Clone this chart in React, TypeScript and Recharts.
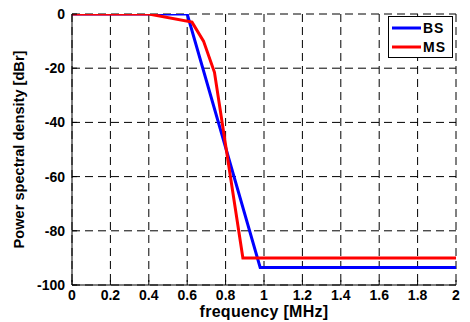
import React from 'react';
import { LineChart, Line, XAxis, YAxis, CartesianGrid, Legend } from 'recharts';

const bsFreq = [0, 0.6, 0.98, 2];
const bsPsd = [0, 0, -93.5, -93.5];
const msFreq = [0, 0.4, 0.625, 0.685, 0.742, 0.89, 2];
const msPsd = [0, 0, -3, -10, -21.5, -90, -90];
const xTicks = [0, 0.2, 0.4, 0.6, 0.8, 1, 1.2, 1.4, 1.6, 1.8, 2];
const xTickLabels = ['0', '0.2', '0.4', '0.6', '0.8', '1', '1.2', '1.4', '1.6', '1.8', '2'];
const yTicks = [-100, -80, -60, -40, -20, 0];
const yTickLabels = ['-100', '-80', '-60', '-40', '-20', '0'];
const seriesNames = ['BS', 'MS'];
const seriesColors = ['#0000ff', '#ff0000'];

const bsData = bsFreq.map((f, i) => ({ f, v: bsPsd[i] }));
const msData = msFreq.map((f, i) => ({ f, v: msPsd[i] }));

const FONT = '"Liberation Sans", Arial, sans-serif';
const TICK_MARGIN_X = 4;
const TICK_MARGIN_Y = 7;
const TICK_LEN = 5;

const XTick = (props: any) => {
  const { x, y, payload } = props;
  const axisY = y - TICK_MARGIN_X;
  const idx = xTicks.indexOf(payload.value);
  return (
    <g>
      <line x1={x} x2={x} y1={axisY} y2={axisY - TICK_LEN} stroke="#000" strokeWidth={1} />
      <text x={x} y={y} dy="0.75em" textAnchor="middle" fontFamily={FONT} fontWeight="bold" fontSize={14} fill="#000">
        {idx >= 0 ? xTickLabels[idx] : String(payload.value)}
      </text>
    </g>
  );
};

const YTick = (props: any) => {
  const { x, y, payload } = props;
  const axisX = x + TICK_MARGIN_Y;
  const idx = yTicks.indexOf(payload.value);
  return (
    <g>
      <line x1={axisX} x2={axisX + TICK_LEN} y1={y} y2={y} stroke="#000" strokeWidth={1} />
      <text x={x} y={y} dy="0.36em" textAnchor="end" fontFamily={FONT} fontWeight="bold" fontSize={14} fill="#000">
        {idx >= 0 ? yTickLabels[idx] : String(payload.value)}
      </text>
    </g>
  );
};

const LegendBox = () => (
  <div
    style={{
      border: '1px solid #000',
      background: '#fff',
      width: 63,
      height: 40,
      boxSizing: 'content-box',
      fontFamily: FONT,
      fontWeight: 'bold',
      fontSize: 14,
      letterSpacing: 1,
      position: 'relative',
    }}
  >
    {seriesNames.map((name, i) => (
      <div key={name} style={{ position: 'absolute', left: 3, top: 4 + i * 19, height: 14, display: 'flex', alignItems: 'center' }}>
        <svg width={29} height={6} style={{ display: 'block' }}>
          <line x1={0} x2={29} y1={3} y2={3} stroke={seriesColors[i]} strokeWidth={3} />
        </svg>
        <span style={{ marginLeft: 2, lineHeight: '14px' }}>{name}</span>
      </div>
    ))}
  </div>
);

export default function App() {
  return (
    <div style={{ position: 'absolute', left: 0, top: 0, width: 470, height: 322, background: '#fff' }}>
      <LineChart width={470} height={322} margin={{ top: 14, right: 14, bottom: 0, left: 12 }}>
        <CartesianGrid xAxisId="b" yAxisId="l" stroke="#000" strokeDasharray="8 5" strokeWidth={1} />
        <XAxis
          xAxisId="b"
          dataKey="f"
          type="number"
          domain={[0, 2]}
          ticks={xTicks}
          interval={0}
          height={37}
          tickSize={0}
          tickMargin={TICK_MARGIN_X}
          tickLine={false}
          axisLine={{ stroke: '#000', strokeWidth: 1 }}
          tick={<XTick />}
          allowDataOverflow
          label={{
            value: 'frequency [MHz]',
            position: 'insideBottom',
            offset: 5,
            style: { fontFamily: FONT, fontWeight: 'bold', fontSize: 16, letterSpacing: 0.3, fill: '#000' },
          }}
        />
        <XAxis
          xAxisId="t"
          orientation="top"
          dataKey="f"
          type="number"
          domain={[0, 2]}
          ticks={xTicks}
          interval={0}
          height={0}
          mirror
          tick={false}
          tickLine={{ stroke: '#000' }}
          tickSize={TICK_LEN}
          axisLine={{ stroke: '#000', strokeWidth: 1 }}
        />
        <YAxis
          yAxisId="l"
          type="number"
          domain={[-100, 0]}
          ticks={yTicks}
          interval={0}
          width={60}
          tickSize={0}
          tickMargin={TICK_MARGIN_Y}
          tickLine={false}
          axisLine={{ stroke: '#000', strokeWidth: 1 }}
          tick={<YTick />}
          allowDataOverflow
          label={{
            content: (p: any) => {
              const vb = p.viewBox;
              const cx = vb.x + 7;
              const cy = vb.y + vb.height / 2;
              return (
                <text
                  x={cx}
                  y={cy}
                  transform={`rotate(-90 ${cx} ${cy})`}
                  textAnchor="middle"
                  dominantBaseline="central"
                  fontFamily={FONT}
                  fontWeight="bold"
                  fontSize={14.6}
                  fill="#000"
                >
                  Power spectral density [dBr]
                </text>
              );
            },
          }}
        />
        <YAxis
          yAxisId="r"
          orientation="right"
          type="number"
          domain={[-100, 0]}
          ticks={yTicks}
          interval={0}
          width={0}
          mirror
          tick={false}
          tickLine={{ stroke: '#000' }}
          tickSize={TICK_LEN}
          axisLine={{ stroke: '#000', strokeWidth: 1 }}
        />
        <Legend
          layout="vertical"
          align="center"
          verticalAlign="middle"
          content={<LegendBox />}
          wrapperStyle={{ position: 'absolute', left: 388, top: 16, width: 'auto', height: 'auto' }}
        />
        <Line
          xAxisId="b"
          yAxisId="l"
          data={bsData}
          dataKey="v"
          name={seriesNames[0]}
          stroke={seriesColors[0]}
          strokeWidth={3}
          dot={false}
          isAnimationActive={false}
          type="linear"
        />
        <Line
          xAxisId="b"
          yAxisId="l"
          data={msData}
          dataKey="v"
          name={seriesNames[1]}
          stroke={seriesColors[1]}
          strokeWidth={3}
          dot={false}
          isAnimationActive={false}
          type="linear"
        />
      </LineChart>
    </div>
  );
}
